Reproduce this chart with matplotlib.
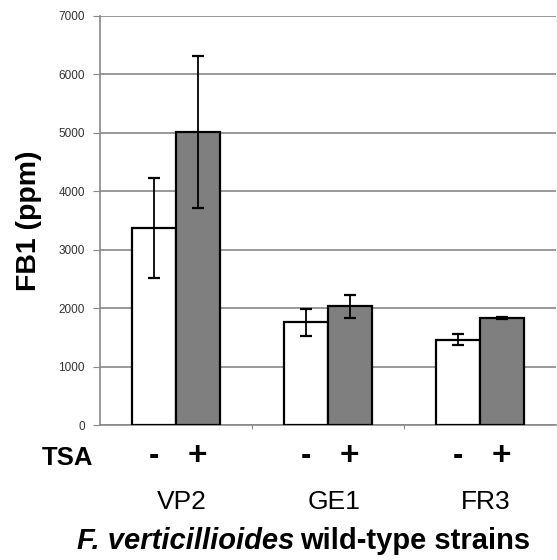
import numpy as np
import matplotlib.pyplot as plt

plt.rcParams['font.family'] = ['Liberation Sans', 'DejaVu Sans']

strains = ['VP2', 'GE1', 'FR3']
tsa_minus = [3370, 1760, 1460]
tsa_minus_err = [860, 230, 90]
tsa_plus = [5020, 2030, 1830]
tsa_plus_err = [1300, 195, 10]
yticks = [0, 1000, 2000, 3000, 4000, 5000, 6000, 7000]

fig = plt.figure(figsize=(5.57, 5.6), dpi=100)
ax = fig.add_axes([100 / 557, 1 - 425 / 560, 456 / 557, 409 / 560])

x = np.arange(len(strains))
w = 0.287
ax.bar(x - w / 2, tsa_minus, w, color='white', edgecolor='black', linewidth=1.6,
       zorder=3)
ax.bar(x + w / 2, tsa_plus, w, color='#7f7f7f', edgecolor='black', linewidth=1.6,
       zorder=3)
ax.errorbar(x - w / 2, tsa_minus, yerr=tsa_minus_err, fmt='none', ecolor='black',
            elinewidth=1.3, capsize=4, capthick=1.6, zorder=4)
ax.errorbar(x + w / 2, tsa_plus, yerr=tsa_plus_err, fmt='none', ecolor='black',
            elinewidth=1.3, capsize=4, capthick=1.6, zorder=4)

ax.set_xlim(-0.5, 2.5)
ax.set_ylim(0, 7000)
ax.set_yticks(yticks)
ax.set_yticklabels([str(t) for t in yticks], fontsize=8.5, color='#333333')
ax.yaxis.grid(True, color='#888888', linewidth=1.2, zorder=0)
ax.set_axisbelow(True)
ax.tick_params(axis='y', length=5, color='#888888', pad=6)

ax.set_xticks([0.5, 1.5])
ax.set_xticklabels([])
ax.tick_params(axis='x', length=3, color='#888888')

for s in ['top', 'right']:
    ax.spines[s].set_visible(False)
ax.spines['left'].set_color('#888888')
ax.spines['left'].set_linewidth(1.2)
ax.spines['bottom'].set_color('#888888')
ax.spines['bottom'].set_linewidth(1.2)

ax.set_ylabel('FB1 (ppm)', fontsize=20.5, fontweight='bold', labelpad=10)
ax.yaxis.set_label_coords(-58 / 456, 0.5)

# TSA row and strain names below the axis
trans = ax.get_xaxis_transform()
fig.text(67 / 557, 1 - 458 / 560, 'TSA', fontsize=18.5, fontweight='bold',
         ha='center', va='center')
for i, name in enumerate(strains):
    ax.text(i - w / 2, -0.076, '-', fontsize=22, fontweight='bold', ha='center',
            va='center', transform=trans)
    ax.text(i + w / 2, -0.076, '+', fontsize=24, fontweight='bold', ha='center',
            va='center', transform=trans)
    ax.text(i + 0.04, -0.188, name, fontsize=19, ha='center', va='center',
            transform=trans)

# axis title: italic species name followed by plain bold text
t1 = fig.text(77 / 557, 1 - 549 / 560, 'F. verticillioides', fontsize=21,
              fontweight='bold', fontstyle='italic', ha='left', va='baseline')
fig.canvas.draw()
bb = t1.get_window_extent()
fig.text(bb.x1 / 557 + 6 / 557, 1 - 549 / 560, 'wild-type strains',
         fontsize=21, fontweight='bold', ha='left', va='baseline')

fig.savefig('out.png', dpi=100)
